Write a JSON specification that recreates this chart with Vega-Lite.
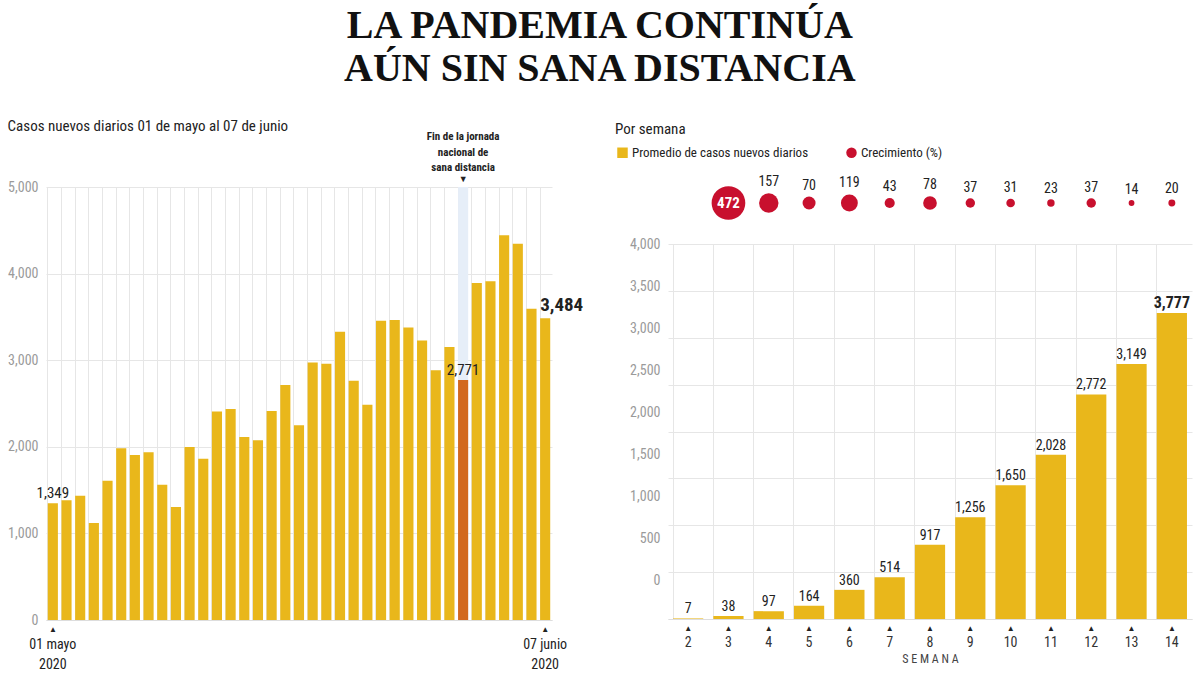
{
  "$schema": "https://vega.github.io/schema/vega-lite/v6.json",
  "background": "white",
  "padding": {"left": 7, "right": 5, "top": 6, "bottom": 5},
  "title": {
    "text": ["LA PANDEMIA CONTINÚA", "AÚN SIN SANA DISTANCIA"],
    "font": "Liberation Serif",
    "fontSize": 40,
    "fontWeight": "bold",
    "color": "#111111",
    "lineHeight": 43,
    "anchor": "middle",
    "offset": 30
  },
  "config": {
    "view": {"stroke": null},
    "font": "Liberation Sans Narrow, Roboto Condensed, Roboto, sans-serif",
    "text": {"font": "Liberation Sans Narrow, Roboto Condensed, Roboto, sans-serif"},
    "title": {"font": "Liberation Sans Narrow, Roboto Condensed, Roboto, sans-serif"},
    "axis": {"labelFont": "Liberation Sans Narrow, Roboto Condensed, Roboto, sans-serif", "titleFont": "Liberation Sans Narrow, Roboto Condensed, Roboto, sans-serif"},
    "legend": {"labelFont": "Liberation Sans Narrow, Roboto Condensed, Roboto, sans-serif"}
  },
  "datasets": {
    "diarios": [
      {"dia": 1, "casos": 1349}, {"dia": 2, "casos": 1383}, {"dia": 3, "casos": 1434},
      {"dia": 4, "casos": 1120}, {"dia": 5, "casos": 1609}, {"dia": 6, "casos": 1982},
      {"dia": 7, "casos": 1906}, {"dia": 8, "casos": 1938}, {"dia": 9, "casos": 1562},
      {"dia": 10, "casos": 1305}, {"dia": 11, "casos": 1997}, {"dia": 12, "casos": 1862},
      {"dia": 13, "casos": 2409}, {"dia": 14, "casos": 2437}, {"dia": 15, "casos": 2112},
      {"dia": 16, "casos": 2075}, {"dia": 17, "casos": 2414}, {"dia": 18, "casos": 2713},
      {"dia": 19, "casos": 2248}, {"dia": 20, "casos": 2973}, {"dia": 21, "casos": 2960},
      {"dia": 22, "casos": 3329}, {"dia": 23, "casos": 2764}, {"dia": 24, "casos": 2485},
      {"dia": 25, "casos": 3455}, {"dia": 26, "casos": 3463}, {"dia": 27, "casos": 3377},
      {"dia": 28, "casos": 3227}, {"dia": 29, "casos": 2885}, {"dia": 30, "casos": 3152},
      {"dia": 31, "casos": 2771}, {"dia": 32, "casos": 3891}, {"dia": 33, "casos": 3912},
      {"dia": 34, "casos": 4442}, {"dia": 35, "casos": 4346}, {"dia": 36, "casos": 3593},
      {"dia": 37, "casos": 3484}
    ],
    "semanal": [
      {"semana": 2, "promedio": 7, "crecimiento": null},
      {"semana": 3, "promedio": 38, "crecimiento": 472},
      {"semana": 4, "promedio": 97, "crecimiento": 157},
      {"semana": 5, "promedio": 164, "crecimiento": 70},
      {"semana": 6, "promedio": 360, "crecimiento": 119},
      {"semana": 7, "promedio": 514, "crecimiento": 43},
      {"semana": 8, "promedio": 917, "crecimiento": 78},
      {"semana": 9, "promedio": 1256, "crecimiento": 37},
      {"semana": 10, "promedio": 1650, "crecimiento": 31},
      {"semana": 11, "promedio": 2028, "crecimiento": 23},
      {"semana": 12, "promedio": 2772, "crecimiento": 37},
      {"semana": 13, "promedio": 3149, "crecimiento": 14},
      {"semana": 14, "promedio": 3777, "crecimiento": 20}
    ]
  },
  "spacing": 31,
  "resolve": {"scale": {"x": "independent", "y": "independent", "color": "independent", "shape": "independent", "size": "independent"}},
  "hconcat": [
    {
      "width": 506,
      "height": 433,
      "title": {"text": "Casos nuevos diarios 01 de mayo al 07 de junio", "anchor": "start", "frame": "bounds", "fontSize": 15, "fontWeight": "normal", "color": "#222222", "offset": -3},
      "data": {"name": "diarios"},
      "encoding": {
        "x": {
          "field": "dia", "type": "ordinal",
          "scale": {"paddingInner": 0.26, "paddingOuter": 0.13},
          "axis": {
            "title": null, "domain": true, "domainColor": "#dddddd", "ticks": false,
            "grid": true, "gridColor": "#e6e6e6", "bandPosition": 0,
            "labelAngle": 0, "labelPadding": 17, "labelFontSize": 14, "labelColor": "#222222", "labelLineHeight": 20,
            "labelExpr": "datum.value == 1 ? ['01 mayo', '2020'] : datum.value == 37 ? ['07 junio', '2020'] : ''"
          }
        }
      },
      "layer": [
        {
          "transform": [{"filter": "datum.dia == 31"}],
          "mark": {"type": "bar", "color": "#e6eef8", "width": {"band": 1}},
          "encoding": {"y": {"datum": 5000, "type": "quantitative", "title": null}}
        },
        {
          "mark": {"type": "bar"},
          "encoding": {
            "y": {
              "field": "casos", "type": "quantitative", "title": null,
              "scale": {"domain": [0, 5000], "nice": false},
              "axis": {"values": [0, 1000, 2000, 3000, 4000, 5000], "labelExpr": "format(datum.value, ',')", "grid": true, "gridColor": "#e6e6e6", "domain": false, "ticks": false, "labelColor": "#9a9a9a", "labelFontSize": 14, "labelPadding": 8, "title": null}
            },
            "color": {"condition": {"test": "datum.dia == 31", "value": "#d2691e"}, "value": "#e9b71b"}
          }
        },
        {
          "transform": [{"filter": "datum.dia == 1 || datum.dia == 31"}],
          "mark": {"type": "text", "baseline": "bottom", "dy": -2, "fontSize": 15, "color": "#222222"},
          "encoding": {
            "y": {"field": "casos", "type": "quantitative", "title": null},
            "text": {"field": "casos", "format": ","}
          }
        },
        {
          "transform": [{"filter": "datum.dia == 37"}],
          "mark": {"type": "text", "align": "left", "dx": -5, "baseline": "bottom", "dy": -3, "fontSize": 19, "fontWeight": "bold", "color": "#222222"},
          "encoding": {
            "y": {"field": "casos", "type": "quantitative", "title": null},
            "text": {"field": "casos", "format": ","}
          }
        },
        {
          "transform": [{"filter": "datum.dia == 31"}],
          "mark": {"type": "text", "baseline": "bottom", "dy": -45, "fontSize": 11, "fontWeight": "bold", "lineHeight": 15.5, "color": "#222222", "text": ["Fin de la jornada", "nacional de", "sana distancia"]},
          "encoding": {"y": {"datum": 5000, "type": "quantitative", "title": null}}
        },
        {
          "transform": [{"filter": "datum.dia == 31"}],
          "mark": {"type": "text", "baseline": "bottom", "dy": -3, "fontSize": 9, "color": "#222222", "text": "▼"},
          "encoding": {"y": {"datum": 5000, "type": "quantitative", "title": null}}
        },
        {
          "transform": [{"filter": "datum.dia == 1 || datum.dia == 37"}],
          "mark": {"type": "text", "baseline": "top", "dy": 6, "fontSize": 8, "color": "#222222", "text": "▲"},
          "encoding": {"y": {"datum": 0, "type": "quantitative", "title": null}}
        }
      ]
    },
    {
      "spacing": 17,
      "resolve": {"scale": {"x": "independent", "y": "independent"}},
      "vconcat": [
        {
          "width": 524,
          "height": 32,
          "title": {"text": "Por semana", "anchor": "start", "frame": "bounds", "fontSize": 15, "fontWeight": "normal", "color": "#222222", "offset": 38, "dx": -53},
          "data": {"name": "semanal"},
          "transform": [{"filter": "datum.crecimiento != null"}],
          "encoding": {
            "x": {
              "field": "semana", "type": "ordinal",
              "scale": {"domain": [2, 3, 4, 5, 6, 7, 8, 9, 10, 11, 12, 13, 14], "paddingInner": 0.25, "paddingOuter": 0.125},
              "axis": null
            }
          },
          "layer": [
            {
              "mark": {"type": "point", "filled": true, "opacity": 1, "strokeWidth": 0},
              "encoding": {
                "size": {"field": "crecimiento", "type": "quantitative", "scale": {"domain": [0, 472], "range": [0, 1134]}, "legend": null},
                "color": {
                  "datum": "Crecimiento (%)", "type": "nominal",
                  "scale": {"domain": ["Promedio de casos nuevos diarios", "Crecimiento (%)"], "range": ["#e9b71b", "#c8102e"]},
                  "legend": {"title": null, "orient": "none", "legendX": -52, "legendY": -41, "direction": "horizontal", "symbolSize": 110, "labelFontSize": 13, "labelColor": "#222222", "labelLimit": 400, "columnPadding": 36, "labelOffset": 3}
                },
                "shape": {
                  "datum": "Crecimiento (%)", "type": "nominal",
                  "scale": {"domain": ["Promedio de casos nuevos diarios", "Crecimiento (%)"], "range": ["square", "circle"]},
                  "legend": {"title": null, "orient": "none", "legendX": -52, "legendY": -41, "direction": "horizontal", "symbolSize": 110, "labelFontSize": 13, "labelColor": "#222222", "labelLimit": 400, "columnPadding": 36, "labelOffset": 3}
                }
              }
            },
            {
              "transform": [{"filter": "datum.crecimiento < 400"}],
              "mark": {"type": "text", "baseline": "bottom", "fontSize": 14, "color": "#222222"},
              "encoding": {
                "y": {"field": "crecimiento", "type": "quantitative", "scale": {"type": "sqrt", "domain": [0, 472], "range": [13, -6]}, "axis": null},
                "text": {"field": "crecimiento"}
              }
            },
            {
              "transform": [{"filter": "datum.crecimiento >= 400"}],
              "mark": {"type": "text", "baseline": "middle", "fontSize": 15, "fontWeight": "bold", "color": "white"},
              "encoding": {"text": {"field": "crecimiento"}}
            }
          ]
        },
        {
          "width": 524,
          "height": 375,
          "data": {"name": "semanal"},
          "encoding": {
            "x": {
              "field": "semana", "type": "ordinal",
              "scale": {"domain": [2, 3, 4, 5, 6, 7, 8, 9, 10, 11, 12, 13, 14], "paddingInner": 0.25, "paddingOuter": 0.125},
              "axis": {"title": "S E M A N A", "titleFontSize": 12, "titleFontWeight": "normal", "titleColor": "#444444", "titlePadding": 4,
                "labelAngle": 0, "labelFontSize": 14, "labelColor": "#333333", "labelPadding": 16, "ticks": false,
                "domain": true, "domainColor": "#dddddd", "grid": true, "gridColor": "#e6e6e6", "bandPosition": 0}
            }
          },
          "layer": [
            {
              "mark": {"type": "tick", "opacity": 0},
              "encoding": {
                "y": {"datum": 0, "type": "quantitative", "scale": {"domain": [0, 4000]},
                  "axis": {"orient": "left", "values": [0, 500, 1000, 1500, 2000, 2500, 3000, 3500, 4000], "grid": true, "gridColor": "#e6e6e6", "labels": false, "ticks": false, "domain": false, "title": null}}
              }
            },
            {
              "mark": {"type": "tick", "opacity": 0},
              "encoding": {
                "y": {"datum": 0, "type": "quantitative", "scale": {"domain": [-457, 4000], "zero": false, "nice": false},
                  "axis": {"orient": "left", "values": [0, 500, 1000, 1500, 2000, 2500, 3000, 3500, 4000], "labelExpr": "format(datum.value, ',')", "grid": false, "ticks": false, "domain": false, "labelColor": "#9a9a9a", "labelFontSize": 14, "labelPadding": 8, "title": null}}
              }
            },
            {
              "mark": {"type": "bar", "color": "#e9b71b"},
              "encoding": {
                "y": {"field": "promedio", "type": "quantitative", "scale": {"domain": [0, 4630], "nice": false}, "axis": null}
              }
            },
            {
              "transform": [{"filter": "datum.semana < 14"}],
              "mark": {"type": "text", "baseline": "bottom", "dy": -2, "fontSize": 14, "color": "#222222"},
              "encoding": {
                "y": {"field": "promedio", "type": "quantitative", "scale": {"domain": [0, 4630], "nice": false}, "axis": null},
                "text": {"field": "promedio", "format": ","}
              }
            },
            {
              "transform": [{"filter": "datum.semana == 14"}],
              "mark": {"type": "text", "baseline": "bottom", "dy": -2, "fontSize": 16, "fontWeight": "bold", "color": "#222222"},
              "encoding": {
                "y": {"field": "promedio", "type": "quantitative", "scale": {"domain": [0, 4630], "nice": false}, "axis": null},
                "text": {"field": "promedio", "format": ","}
              }
            },
            {
              "mark": {"type": "text", "baseline": "top", "dy": 6, "fontSize": 8, "color": "#222222", "text": "▲"},
              "encoding": {
                "y": {"datum": 0, "type": "quantitative", "scale": {"domain": [0, 4630], "nice": false}, "axis": null}
              }
            }
          ],
          "resolve": {"scale": {"y": "independent"}, "axis": {"y": "independent"}}
        }
      ]
    }
  ]
}
